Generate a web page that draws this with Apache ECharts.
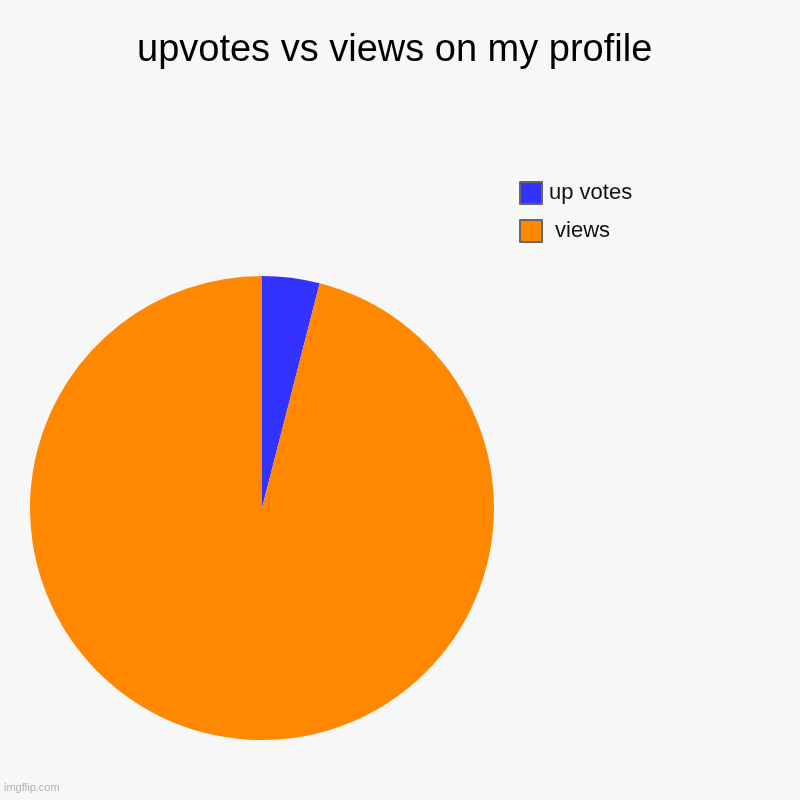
<!DOCTYPE html>
<html>
<head>
<meta charset="utf-8">
<script src="https://cdn.jsdelivr.net/npm/echarts@6/dist/echarts.min.js"></script>
<style>
html,body{margin:0;padding:0;background:#f7f7f7;}
#c{width:800px;height:800px;}
</style>
</head>
<body>
<div id="c"></div>
<script>
const titleText = 'upvotes vs views on my profile';
const categories = ['up votes', ' views'];
const values = [4, 96];
const colors = ['#3333ff', '#ff8800'];

const chart = echarts.init(document.getElementById('c'), null, {renderer: 'canvas'});
chart.setOption({
  backgroundColor: '#f7f7f7',
  animation: false,
  title: {
    text: titleText,
    left: 132,
    top: 27,
    textStyle: {fontFamily: 'Arial, Liberation Sans, sans-serif', fontSize: 38, fontWeight: 'normal', color: '#000'}
  },
  legend: {
    orient: 'vertical',
    left: 519,
    top: 181,
    padding: 0,
    itemWidth: 22,
    itemHeight: 22,
    itemGap: 14,
    icon: 'rect',
    data: categories,
    itemStyle: {borderColor: '#666666', borderWidth: 2},
    textStyle: {fontFamily: 'Arial, Liberation Sans, sans-serif', fontSize: 22, color: '#111', padding: [0, 0, 0, 2]},
    selectedMode: false
  },
  graphic: [{
    type: 'text',
    left: 4,
    top: 782,
    style: {text: 'imgflip.com', fontFamily: 'Arial, Liberation Sans, sans-serif', fontSize: 11, fill: '#b0b0b0'}
  }],
  series: [{
    type: 'pie',
    center: [262, 508],
    radius: 232,
    startAngle: 90,
    clockwise: true,
    label: {show: false},
    labelLine: {show: false},
    emphasis: {disabled: true},
    itemStyle: {borderWidth: 0},
    data: categories.map((n, i) => ({name: n, value: values[i], itemStyle: {color: colors[i]}}))
  }]
});
</script>
</body>
</html>
